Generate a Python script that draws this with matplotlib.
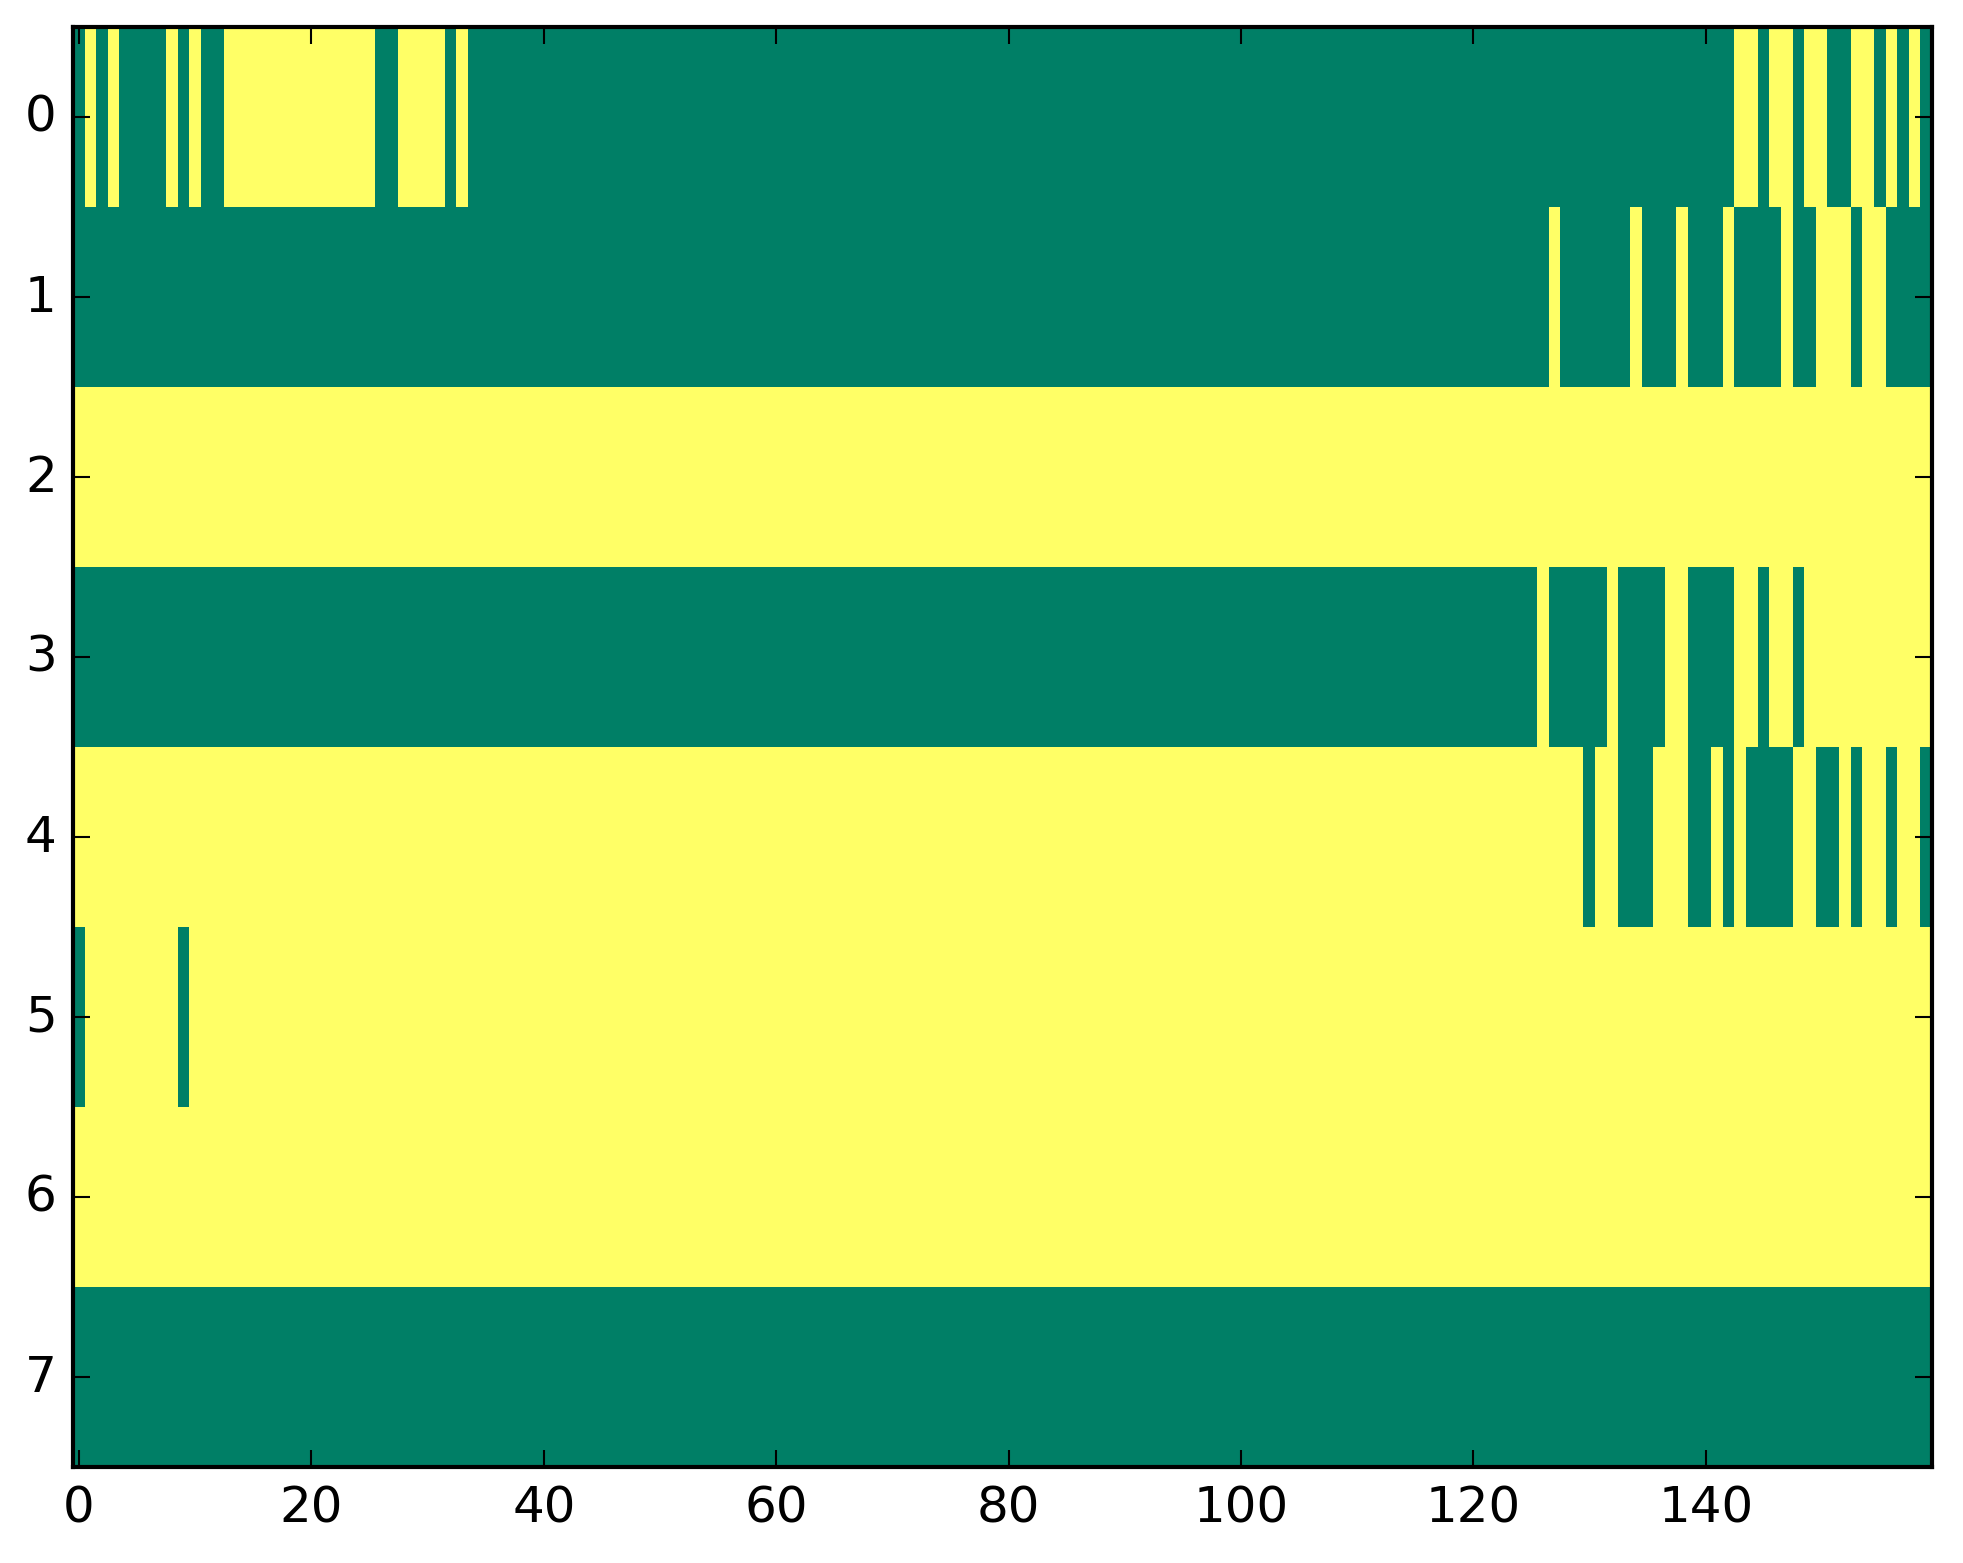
import numpy as np
import matplotlib
matplotlib.use("Agg")
import matplotlib.pyplot as plt

# 8 rows x 160 columns, 1 = yellow, 0 = green
zeros40 = "0" * 40
ones40 = "1" * 40

row0 = "0101000010100" + "1111111111111" + "00" + "1111" + "01" + "000000" \
    + zeros40 + zeros40 + "0" * 23 + "11011011001101010"
row1 = zeros40 + zeros40 + zeros40 + "0000000" + "1000000100010001000010011101100" + "00"
row2 = ones40 * 4
row3 = zeros40 + zeros40 + zeros40 + "000000" + "100000100001100001101101" + "1" * 10
row4 = ones40 + ones40 + ones40 + "1" * 10 + "011000111001010000110010110110"
row5 = "0111111110" + "1" * 30 + ones40 + ones40 + ones40
row6 = ones40 * 4
row7 = zeros40 * 4

rows = [row0, row1, row2, row3, row4, row5, row6, row7]
grid = np.array([[int(ch) for ch in r] for r in rows])

plt.style.use("classic")

W, H, dpi = 1963, 1564, 300
fig = plt.figure(figsize=(W / dpi, H / dpi), dpi=dpi, facecolor="white")
ax = fig.add_axes([73.3 / W, 96 / H, 1859 / W, 1440 / H])
ax.imshow(grid, cmap="summer", interpolation="nearest", aspect="auto")
ax.set_xticks(np.arange(0, 160, 20))
ax.set_yticks(np.arange(0, 8))

fig.savefig("out.png", dpi=dpi, facecolor="white")
